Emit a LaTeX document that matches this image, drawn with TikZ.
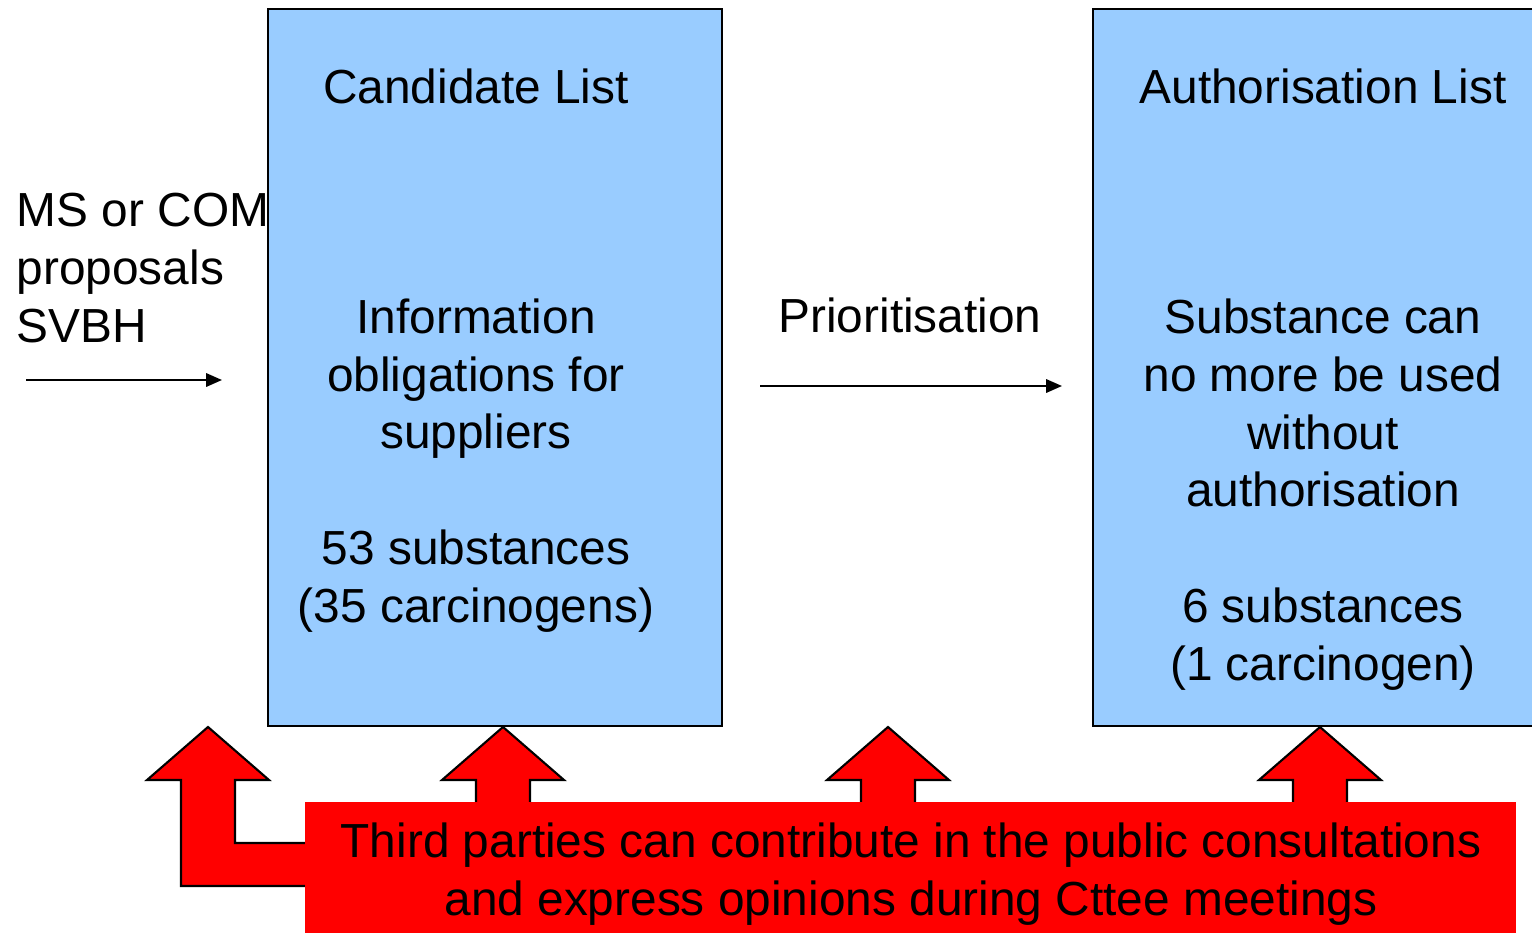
\documentclass[tikz,border=0pt]{standalone}
\usepackage{fontspec}
\setmainfont{Liberation Sans}
\usetikzlibrary{arrows.meta}
\definecolor{listblue}{RGB}{153,204,255}
\definecolor{notered}{RGB}{255,0,0}
\tikzset{
  listbox/.style={draw=black, fill=listblue, line width=0.6pt, inner sep=0pt, minimum height=7.17cm},
  txt/.style={font=\fontsize{13.6}{16.4}\selectfont, inner sep=0pt, anchor=base},
  flow/.style={line width=0.6pt, -{Triangle[length=4.5pt,width=3.8pt]}},
  redarrow/.style={draw=black, fill=notered, line width=0.6pt, line join=miter},
}
\begin{document}
\begin{tikzpicture}[x=0.01cm,y=-0.01cm]
\useasboundingbox (0,0) rectangle (1532,933);
% the two lists
\node[listbox, minimum width=4.54cm] (cand) at (495,367.5){};
\node[listbox, minimum width=4.98cm] (auth) at (1342,367.5){};
\node[txt] (candtitle) at (476,103){Candidate List};
\node[txt, align=center] (candinfo) at (476,622){Information\\obligations for\\suppliers\\[16.4pt]53 substances\\(35 carcinogens)};
\node[txt] (authtitle) at (1323,103){Authorisation List};
\node[txt, align=center] (authinfo) at (1323,680){Substance can\\no more be used\\without\\authorisation\\[16.4pt]6 substances\\(1 carcinogen)};
% proposals and prioritisation
\node[txt, anchor=base west, align=left] (prop) at (16,342){MS or COM\\proposals\\SVBH};
\coordinate (propa) at (26,380);
\coordinate (propb) at (222,380);
\draw[flow] (propa) -- (propb);
\node[txt] (prio) at (910,332){Prioritisation};
\coordinate (prioa) at (760,386);
\coordinate (priob) at (1062,386);
\draw[flow] (prioa) -- (priob);
% third parties
\draw[redarrow] (181,886) -- (181,780) -- (147,780) -- (208,727) -- (269,780) -- (235,780) -- (235,843) -- (320,843) -- (320,886) -- cycle;
\foreach \cx in {503,888,1320}
  \draw[redarrow] (\cx-27,815) -- (\cx-27,780) -- (\cx-61,780) -- (\cx,727) -- (\cx+61,780) -- (\cx+27,780) -- (\cx+27,815) -- cycle;
\node[fill=notered, inner sep=0pt, minimum width=12.11cm, minimum height=1.31cm] (third) at (910.5,867.5){};
\node[txt, align=center] (thirdtxt) at (911,915){Third parties can contribute in the public consultations\\and express opinions during Cttee meetings};
\end{tikzpicture}
\end{document}
